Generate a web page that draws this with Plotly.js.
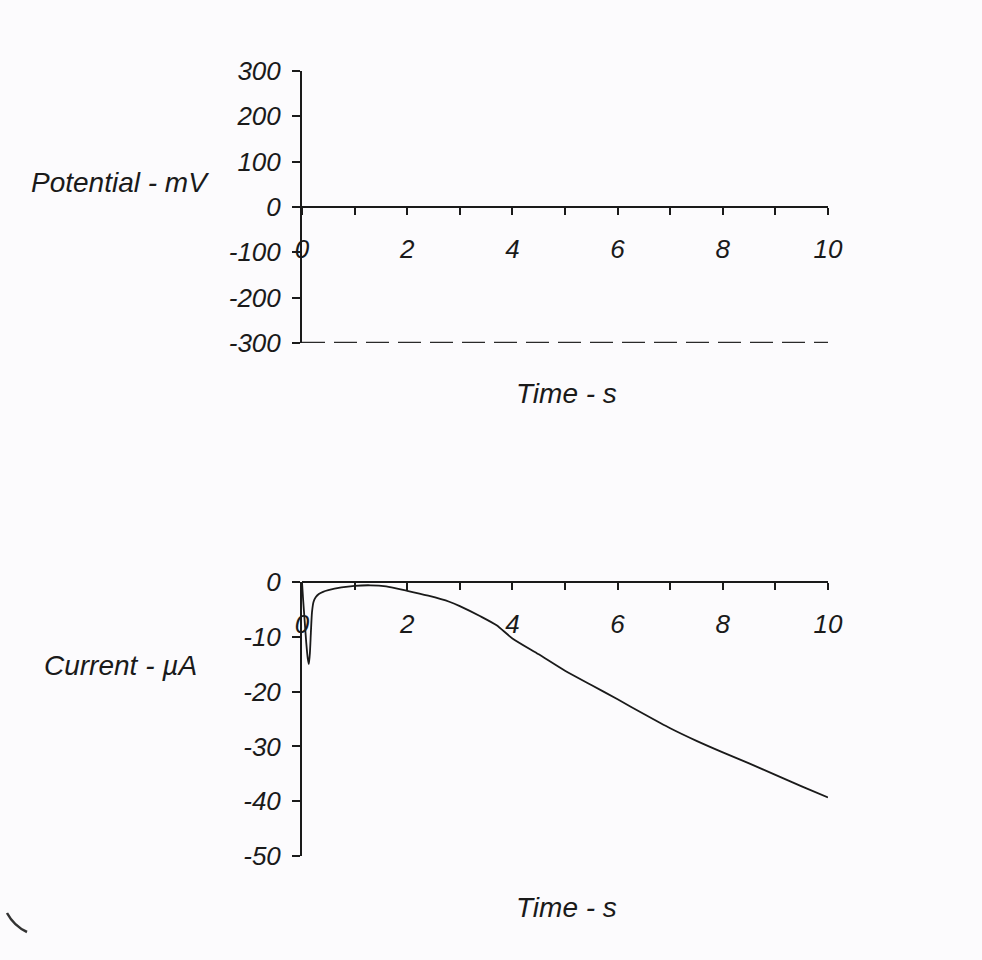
<!DOCTYPE html>
<html>
<head>
<meta charset="utf-8">
<script src="https://cdn.plot.ly/plotly-3.0.1.min.js"></script>
<style>html,body{margin:0;padding:0;background:#fcfbfd;}</style>
</head>
<body>
<div id="chart" style="width:982px;height:960px;"></div>
<script>
// Potential step (mV) vs time (s)
const potTime = [0, 10];
const potValue = [-300, -300];

// Current response (µA) vs time (s)
const curTime = [0, 0.02, 0.05, 0.08, 0.11, 0.13, 0.15, 0.17, 0.19, 0.22, 0.26, 0.32, 0.4, 0.5, 0.75, 1.0, 1.3, 1.6, 2.0, 2.4, 2.8, 3.0, 3.4, 3.7, 4.0, 4.5, 5.0, 5.5, 6.0, 6.5, 7.0, 7.5, 8.0, 8.5, 9.0, 9.5, 10.0];
const curValue = [0, -3, -7, -11, -14, -15, -13, -9, -5.5, -3.6, -2.8, -2.2, -1.8, -1.5, -1.0, -0.7, -0.6, -0.8, -1.6, -2.5, -3.6, -4.4, -6.3, -7.9, -10.3, -13.2, -16.2, -18.8, -21.4, -24.1, -26.7, -29.0, -31.1, -33.1, -35.2, -37.3, -39.3];

const potTicks = [-300, -200, -100, 0, 100, 200, 300];
const curTicks = [-50, -40, -30, -20, -10, 0];
const timeTicks = [0, 2, 4, 6, 8, 10];

const W = 982, H = 960;
const ink = '#1a1a1a';
const tickFont = {family: 'Liberation Sans, Arial, sans-serif', size: 26, color: ink, style: 'italic'};
const titleFont = {family: 'Liberation Sans, Arial, sans-serif', size: 28, color: ink, style: 'italic'};

const xDom = [302 / W, 828 / W];
const y1Dom = [1 - 343 / H, 1 - 71 / H];
const y2Dom = [1 - 856 / H, 1 - 582 / H];
const y1Range = [-300, 300];
const y2Range = [-50, 0];
// x-axis sits where y = 0 in each panel
const pos1 = y1Dom[0] + (0 - y1Range[0]) / (y1Range[1] - y1Range[0]) * (y1Dom[1] - y1Dom[0]);
const pos2 = y2Dom[0] + (0 - y2Range[0]) / (y2Range[1] - y2Range[0]) * (y2Dom[1] - y2Dom[0]);

function xAxis(pos) {
  return {
    domain: xDom, range: [0, 10], anchor: 'free', position: pos,
    showline: true, linecolor: ink, linewidth: 2,
    ticks: 'outside', ticklen: 7, tickwidth: 2, tickcolor: ink,
    tickvals: timeTicks, ticktext: timeTicks.map(String),
    minor: {dtick: 1, tick0: 0, ticks: 'outside', ticklen: 7, tickwidth: 2, tickcolor: ink},
    ticklabelstandoff: 12,
    showgrid: false, zeroline: false, tickfont: tickFont
  };
}
function yAxis(dom, range, ticks) {
  return {
    domain: dom, range: range, anchor: 'x',
    showline: true, linecolor: ink, linewidth: 2,
    ticks: 'outside', ticklen: 8, tickwidth: 2, tickcolor: ink,
    tickvals: ticks, ticktext: ticks.map(String),
    ticklabelstandoff: 6,
    showgrid: false, zeroline: false, tickfont: tickFont
  };
}

const data = [
  {x: potTime, y: potValue, xaxis: 'x', yaxis: 'y', mode: 'lines',
   line: {color: '#2a2a2a', width: 2.5, dash: '23px,9px'}, hoverinfo: 'skip'},
  {x: curTime, y: curValue, xaxis: 'x2', yaxis: 'y2', mode: 'lines',
   line: {color: '#1a1a1a', width: 1.8, shape: 'spline', smoothing: 0.6}, hoverinfo: 'skip'}
];

const x2 = xAxis(pos2);
const y2 = yAxis(y2Dom, y2Range, curTicks);
y2.anchor = 'x2';

const layout = {
  width: W, height: H,
  margin: {l: 0, r: 0, t: 0, b: 0},
  paper_bgcolor: '#fcfbfd', plot_bgcolor: 'rgba(0,0,0,0)',
  showlegend: false,
  xaxis: xAxis(pos1),
  yaxis: yAxis(y1Dom, y1Range, potTicks),
  xaxis2: x2,
  yaxis2: y2,
  annotations: [
    {text: 'Potential - mV', xref: 'paper', yref: 'paper', x: 120 / W, y: 1 - 182 / H, showarrow: false, font: titleFont, xanchor: 'center', yanchor: 'middle'},
    {text: 'Time - s', xref: 'paper', yref: 'paper', x: 566 / W, y: 1 - 393 / H, showarrow: false, font: titleFont, xanchor: 'center', yanchor: 'middle'},
    {text: 'Current - µA', xref: 'paper', yref: 'paper', x: 120 / W, y: 1 - 665 / H, showarrow: false, font: titleFont, xanchor: 'center', yanchor: 'middle'},
    {text: 'Time - s', xref: 'paper', yref: 'paper', x: 566 / W, y: 1 - 907 / H, showarrow: false, font: titleFont, xanchor: 'center', yanchor: 'middle'}
  ],
  shapes: [
    {type: 'path', xref: 'paper', yref: 'paper',
     path: 'M ' + (7 / W) + ',' + (1 - 913 / H) + ' Q ' + (14 / W) + ',' + (1 - 926 / H) + ' ' + (27 / W) + ',' + (1 - 932 / H),
     line: {color: '#333333', width: 2.5}}
  ]
};

Plotly.newPlot('chart', data, layout, {staticPlot: true, displayModeBar: false});
</script>
</body>
</html>
